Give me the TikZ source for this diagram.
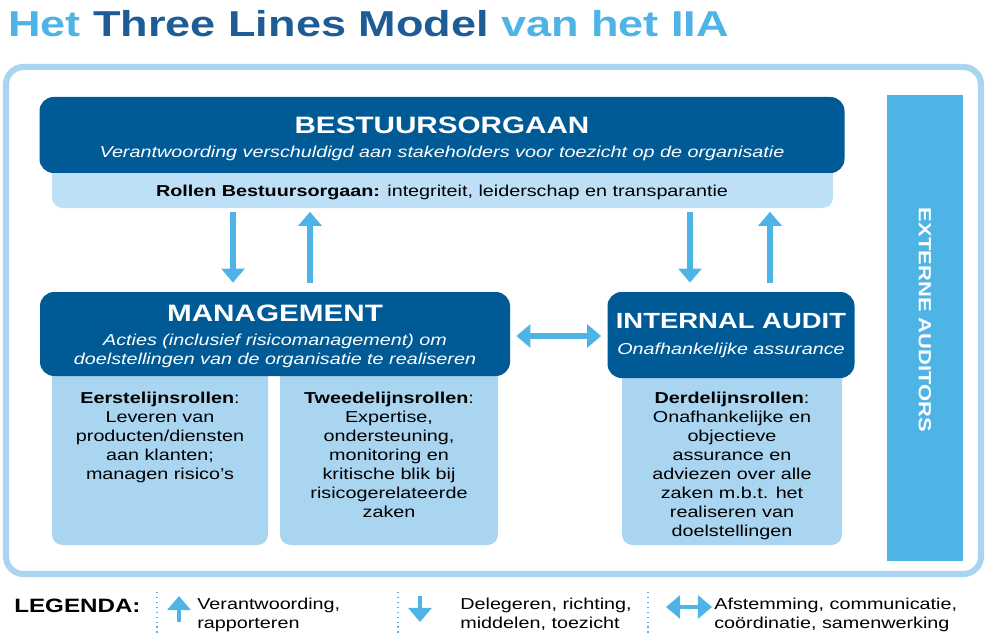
\documentclass[tikz,border=0pt]{standalone}
\usepackage{fontspec}
\setmainfont{Liberation Sans}[FakeStretch=1.25]
\usetikzlibrary{positioning, arrows.meta, calc}
\definecolor{DeepBlue}{RGB}{0, 90, 150}
\definecolor{SkyBlue}{RGB}{78, 180, 230}
\definecolor{PaleBlue}{RGB}{170, 213, 241}
\definecolor{StripBlue}{RGB}{190, 224, 246}
\definecolor{TitleBlue}{RGB}{30, 92, 150}
\newcommand{\bodyfont}{\fontsize{9}{10.8}\selectfont}
\newcommand{\headfont}{\fontsize{13.5}{15}\selectfont\bfseries}
\tikzset{
  darkbox/.style={fill=DeepBlue, rounded corners=8pt, text=white, align=center, inner sep=0pt},
  lightbox/.style={fill=PaleBlue, rounded corners=6pt, inner sep=0pt},
  body/.style={font=\bodyfont, align=center, anchor=north, inner sep=0pt},
  sub/.style={font=\bodyfont\itshape, text=white, align=center, inner sep=0pt},
  flow/.style={draw=SkyBlue, line width=3pt, -{Triangle[width=13pt,length=8pt]}},
  twoway/.style={draw=SkyBlue, line width=3pt, {Triangle[width=13pt,length=8pt]}-{Triangle[width=13pt,length=8pt]}},
  divider/.style={draw=SkyBlue, dotted, line width=0.8pt}
}
\begin{document}
\begin{tikzpicture}[x=0.02cm, y=-0.02cm]
    \useasboundingbox (0,0) rectangle (991,642);

    % Titel
    \node[anchor=west, font=\fontsize{20.5}{22}\selectfont\bfseries, inner sep=0pt] (titel) at (8,24)
        {\textcolor{SkyBlue}{Het} \textcolor{TitleBlue}{Three Lines Model} \textcolor{SkyBlue}{van het IIA}};

    % Kader
    \draw[PaleBlue, line width=3.5pt, rounded corners=10pt] (6,67) rectangle (981,574);

    % Bestuursorgaan
    \fill[StripBlue, rounded corners=6pt] (52,160) rectangle (833,208);
    \node[font=\bodyfont, inner sep=0pt] (rollen) at (442,192)
        {\textbf{Rollen Bestuursorgaan:} integriteit, leiderschap en transparantie};
    \node[darkbox, minimum width=805*0.02cm, minimum height=76*0.02cm] (bestuur) at (442,135) {};
    \node[font=\headfont, text=white] (bestuurkop) at (442,125) {BESTUURSORGAAN};
    \node[sub] (bestuursub) at (442,153) {Verantwoording verschuldigd aan stakeholders voor toezicht op de organisatie};

    % Management
    \node[lightbox, minimum width=216*0.02cm, minimum height=190*0.02cm] (eerste) at (160,450) {};
    \node[lightbox, minimum width=218*0.02cm, minimum height=190*0.02cm] (tweede) at (389,450) {};
    \node[darkbox, minimum width=470*0.02cm, minimum height=84*0.02cm] (man) at (275,334) {};
    \node[font=\headfont, text=white] (mankop) at (275,313) {MANAGEMENT};
    \node[sub] (mansub) at (275,351) {Acties (inclusief risicomanagement) om\\doelstellingen van de organisatie te realiseren};
    \node[body] (eerstetekst) at (160,392) {\textbf{Eerstelijnsrollen}:\\Leveren van\\producten/diensten\\aan klanten;\\managen risico's};
    \node[body] (tweedetekst) at (389,392) {\textbf{Tweedelijnsrollen}:\\Expertise,\\ondersteuning,\\monitoring en\\kritische blik bij\\risicogerelateerde\\zaken};

    % Internal audit
    \node[lightbox, minimum width=220*0.02cm, minimum height=180*0.02cm] (derde) at (732,455) {};
    \node[darkbox, minimum width=247*0.02cm, minimum height=86*0.02cm] (audit) at (731,335) {};
    \node[font=\fontsize{12.5}{14}\selectfont\bfseries, text=white] (auditkop) at (731,321) {INTERNAL AUDIT};
    \node[sub] (auditsub) at (731,350) {Onafhankelijke assurance};
    \node[body] (derdetekst) at (732,392) {\textbf{Derdelijnsrollen}:\\Onafhankelijke en\\objectieve\\assurance en\\adviezen over alle\\zaken m.b.t. het\\realiseren van\\doelstellingen};

    % Externe auditors
    \node[fill=SkyBlue, minimum width=76*0.02cm, minimum height=465*0.02cm, inner sep=0pt] (extern) at (925,328) {};
    \node[rotate=-90, text=white, font=\fontsize{10}{12}\selectfont\bfseries] (externtekst) at (925,320) {EXTERNE AUDITORS};

    % Pijlen
    \draw[flow] ($(rollen.south -| 233,0)+(0,12)$) -- ($(man.north -| 233,0)+(0,-9)$);
    \draw[flow] ($(man.north -| 310,0)+(0,-9)$) -- ($(rollen.south -| 310,0)+(0,12)$);
    \draw[flow] ($(rollen.south -| 690,0)+(0,12)$) -- ($(audit.north -| 690,0)+(0,-9)$);
    \draw[flow] ($(audit.north -| 770,0)+(0,-9)$) -- ($(rollen.south -| 770,0)+(0,12)$);
    \draw[twoway] ($(man.east |- 0,336)+(6,0)$) -- ($(audit.west |- 0,336)+(-6,0)$);

    % Legenda
    \node[anchor=west, font=\fontsize{11}{13}\selectfont\bfseries, inner sep=0pt] (legenda) at (14,606) {LEGENDA:};
    \draw[divider] (157,592) -- (157,636);
    \draw[divider] (398,592) -- (398,636);
    \draw[divider] (648,592) -- (648,636);
    \coordinate (opbegin) at (179,622);
    \coordinate (open) at (179,596);
    \draw[flow, line width=2pt] (opbegin) -- (open);
    \node[anchor=north west, font=\bodyfont, align=left, inner sep=0pt] (legop) at (197,598) {Verantwoording,\\rapporteren};
    \coordinate (neerbegin) at (420,596);
    \coordinate (neereind) at (420,622);
    \draw[flow, line width=2pt] (neerbegin) -- (neereind);
    \node[anchor=north west, font=\bodyfont, align=left, inner sep=0pt] (legneer) at (460,598) {Delegeren, richting,\\middelen, toezicht};
    \coordinate (linksp) at (666,607);
    \coordinate (rechtsp) at (712,607);
    \draw[twoway, line width=2pt] (linksp) -- (rechtsp);
    \node[anchor=north west, font=\bodyfont, align=left, inner sep=0pt] (legtwee) at (714,598) {Afstemming, communicatie,\\coördinatie, samenwerking};
\end{tikzpicture}
\end{document}
